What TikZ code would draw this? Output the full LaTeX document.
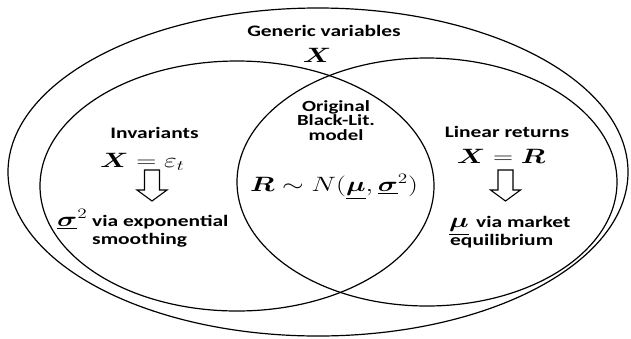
\documentclass[tikz,border=0pt]{standalone}
\usepackage{amsmath,bm}
\usepackage{graphicx}
\usepackage{fontspec}
\newfontfamily\lblfont{Carlito}
\newcommand{\W}[1]{\scalebox{1.34}[1]{#1}}
\tikzset{
  lbl/.style={font=\lblfont\bfseries\fontsize{16}{16}\selectfont, inner sep=0pt, text height=10.5pt, text depth=2.5pt},
  stack/.style={font=\lblfont\bfseries\fontsize{15.5}{14.2}\selectfont, inner sep=0pt, align=center,
    execute at begin node={\setlength{\lineskiplimit}{-10pt}}},
  mth/.style={font=\fontsize{20.74}{24}\selectfont, inner sep=0pt},
  ring/.style={draw=black, line width=1.2pt},
  blockarrow/.style={draw=black, line width=1.1pt, fill=white, line join=miter}
}
\begin{document}
\begin{tikzpicture}[x=1pt, y=-1pt]
\useasboundingbox (0,0) rectangle (631,338);
% ellipses
\draw[ring] (318,172) ellipse [x radius=310pt, y radius=164pt];
\draw[ring] (237,186) ellipse [x radius=197pt, y radius=125pt];
\draw[ring] (427,182) ellipse [x radius=190pt, y radius=124pt];
% top labels
\node[lbl, anchor=base] (gen) at (324,36) {\W{Generic variables}};
\node[mth, anchor=base] (genx) at (317,62) {\W{$\bm{X}$}};
% centre
\node[stack, anchor=center] (orig) at (336,120.5) {\W{Original}\\\W{Black-Lit.}\\\W{model}};
\node[mth, anchor=base] (dist) at (334,191) {\W{$\bm{R}\sim N(\underline{\bm{\mu}},\underline{\bm{\sigma}}^2)$}};
% left
\node[lbl, anchor=base] (inv) at (154.5,138) {\W{Invariants}};
\node[mth, anchor=base west] (invx) at (100,167) {\W{$\bm{X}=\varepsilon_t$}};
\node[mth, anchor=base west] (sig) at (57,226) {\W{$\underline{\bm{\sigma}}^2$}};
\node[lbl, anchor=base west] (via1) at (92,226) {\W{via exponential}};
\node[lbl, anchor=base west] (smo) at (92,244) {\W{smoothing}};
% right
\node[lbl, anchor=base] (lin) at (507,137) {\W{Linear returns}};
\node[mth, anchor=base] (linx) at (501,163) {\W{$\bm{X}=\bm{R}$}};
\node[mth, anchor=base west] (mu) at (449,227) {\W{$\underline{\bm{\mu}}$}};
\node[lbl, anchor=base west] (via2) at (476,227) {\W{via market}};
\node[lbl, anchor=base west] (equ) at (450,245) {\W{equilibrium}};
% block arrows
\draw[blockarrow] (144.5,170) -- (159.5,170) -- (159.5,190) -- (167,190) -- (152,201) -- (137,190) -- (144.5,190) -- cycle;
\draw[blockarrow] (498,170) -- (513,170) -- (513,190) -- (520.5,190) -- (505.5,201) -- (490.5,190) -- (498,190) -- cycle;
\end{tikzpicture}
\end{document}
